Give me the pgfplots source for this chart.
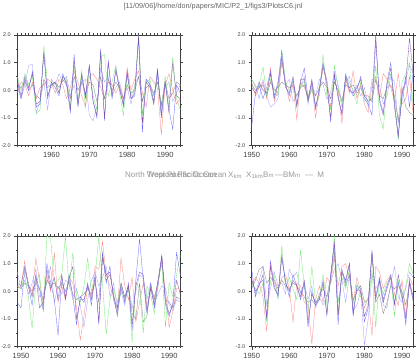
\documentclass[border=0pt]{standalone}
\usepackage{fontspec}
\setmainfont{Liberation Sans}
\usepackage{pgfplots}
\usepackage{pgfplotstable}
\pgfplotsset{compat=1.18}
\definecolor{cB}{rgb}{0.4,0.4,1}
\definecolor{cG}{rgb}{0.45,0.9,0.45}
\definecolor{cR}{rgb}{1,0.5,0.5}
\definecolor{cLB}{rgb}{0.62,0.62,1}
\definecolor{cK}{rgb}{0.5,0.5,0.5}
\definecolor{cP}{rgb}{0.5,0.3,0.65}

\pgfplotstableread{
yr a b c d e f
1951 0.3 0.5 -0.1 0.1 0.2 0.4
1952 -0.3 0.0 0.3 -0.3 0.1 -0.2
1953 0.4 0.6 0.2 0.2 0.3 0.5
1954 0.0 0.2 -0.2 0.9 0.0 0.1
1955 0.7 0.5 0.3 0.95 0.2 0.6
1956 -0.6 -0.85 -0.3 -0.8 -0.2 -0.5
1957 -0.5 -0.7 0.1 -0.4 -0.3 -0.4
1958 1.3 1.6 0.2 0.3 0.4 1.4
1959 -0.3 0.2 0.4 -0.7 0.1 -0.2
1960 0.3 0.1 0.3 0.4 0.2 0.2
1961 0.1 0.3 -0.1 0.2 0.3 0.3
1962 -0.2 -0.1 0.4 0.6 0.1 -0.1
1963 0.6 0.5 0.2 0.3 0.4 0.5
1964 0.2 0.4 -0.3 0.5 0.2 0.3
1965 -0.8 -0.6 0.1 -0.2 -0.3 -0.7
1966 1.3 0.9 0.7 0.2 0.5 1.1
1967 -0.6 -0.4 0.3 -0.5 0.0 -0.5
1968 0.5 0.7 -0.2 0.3 0.3 0.6
1969 -0.3 -0.6 -0.6 0.4 -0.1 -0.2
1970 0.9 0.8 0.5 -0.9 0.3 0.9
1971 -0.4 -0.2 0.6 -1.1 0.2 -0.4
1972 -1.0 -0.7 0.4 -0.6 -0.4 -0.9
1973 1.5 1.2 0.1 0.8 0.5 1.4
1974 -1.1 1.3 -0.3 0.3 -0.3 -1.0
1975 1.1 -0.2 0.3 0.5 0.4 1.0
1976 -0.3 0.3 0.2 -0.2 0.0 -0.2
1977 0.8 0.9 -0.1 0.1 0.3 0.7
1978 0.1 -0.1 0.2 0.3 0.1 0.0
1979 -0.6 -0.9 -0.4 -0.3 -0.3 -0.5
1980 0.7 0.5 0.8 0.1 0.2 0.6
1981 -0.3 -0.2 0.0 -0.5 -0.1 -0.3
1982 -0.2 0.1 0.4 0.2 0.0 -0.1
1983 1.9 2.0 0.7 0.5 0.5 2.0
1984 -1.5 -0.9 -0.1 -0.4 -0.4 -1.2
1985 0.4 0.3 -0.6 0.4 0.1 0.3
1986 0.2 0.4 0.5 0.2 0.2 0.1
1987 -0.4 -0.5 0.3 -0.2 -0.1 -0.5
1988 0.8 0.6 0.1 0.5 0.3 0.7
1989 -1.0 -0.8 -1.6 -0.6 -0.5 -0.9
1990 0.3 0.5 0.2 0.1 0.3 0.3
1991 -0.7 -0.6 0.6 0.3 -0.3 -0.8
1992 -1.4 1.2 0.0 -0.4 -0.1 1.0
1993 0.2 -0.3 -0.5 -0.1 0.3 -0.2
1994 -0.1 -0.7 -0.3 0.2 0.2 -0.3
}\tTL

\pgfplotstableread{
yr a b c d e f
1950 -1.3 0.4 0.3 0.4 0.2 0.1
1951 -0.1 0.1 -0.2 0.2 0.0 -0.1
1952 0.2 0.2 0.1 -0.3 0.1 0.3
1953 -0.3 0.85 0.3 0.4 0.2 0.0
1954 0.1 -0.2 -0.3 -0.2 -0.2 -0.1
1955 0.7 0.4 0.8 -0.6 0.3 0.6
1956 -0.2 0.1 -0.4 -0.5 0.0 -0.3
1957 0.3 -0.2 0.0 -0.3 0.1 0.2
1958 1.4 1.5 1.0 1.1 0.3 1.2
1959 0.2 0.3 0.3 0.2 0.2 0.1
1960 -0.2 0.0 -0.4 0.4 0.1 -0.1
1961 0.4 0.3 0.2 -0.4 0.2 0.5
1962 -0.5 -0.6 -1.05 -0.2 -0.2 -0.6
1963 0.3 0.2 0.3 0.1 0.1 0.4
1964 0.8 0.3 0.1 0.5 0.2 0.4
1965 -0.3 -0.4 -0.2 -0.5 -0.3 -0.4
1966 0.3 0.1 0.2 0.3 0.0 0.4
1967 -0.7 -0.5 -1.0 -0.2 -0.2 -0.6
1968 0.1 -0.2 0.0 0.4 0.1 0.0
1969 1.0 1.3 0.8 0.2 0.3 0.9
1970 0.3 -0.2 0.4 -0.3 0.1 0.2
1971 -1.15 -0.7 -0.6 -0.1 -0.3 -1.0
1972 0.5 0.9 0.3 0.7 0.3 0.6
1973 -0.2 0.1 0.0 0.2 0.0 -0.3
1974 -0.9 -0.6 -1.2 -0.4 -0.4 -0.8
1975 0.6 0.5 0.4 0.3 0.2 0.5
1976 0.1 0.3 -0.1 0.5 0.1 0.0
1977 -0.2 0.0 0.7 -0.1 0.2 -0.1
1978 0.0 -0.5 -0.3 0.2 -0.1 0.1
1979 0.5 0.3 0.2 -0.2 0.1 0.4
1980 -0.3 -0.4 -0.5 0.1 -0.2 -0.2
1981 -0.5 -0.3 -0.8 -0.6 -0.2 -0.4
1982 -0.9 -0.4 0.2 0.4 -0.4 -0.3
1983 1.8 0.9 0.5 0.3 0.4 2.0
1984 -0.3 -0.9 -0.3 0.2 -0.2 -0.4
1985 -0.8 -1.4 0.6 -0.5 -0.3 -0.9
1986 0.3 0.1 0.4 -0.2 0.1 0.2
1987 1.0 0.6 0.1 0.5 0.2 0.8
1988 -0.5 -0.3 -0.4 0.3 -0.2 -0.6
1989 -1.6 -1.8 0.6 -1.2 -1.1 -1.7
1990 -0.2 0.3 -0.5 -0.4 0.1 -0.1
1991 0.5 0.6 -0.3 0.4 -0.6 0.3
1992 -0.6 1.0 0.5 0.9 -0.8 1.9
1993 0.7 -0.6 -0.9 0.6 -0.9 0.5
}\tTR

\pgfplotstableread{
yr a b c d e f
1949 -0.4 0.2 0.1 0.7 0.2 0.3
1950 -0.6 0.1 0.2 0.1 0.1 0.2
1951 0.8 0.6 1.1 0.4 0.3 0.9
1952 0.2 -0.2 0.1 -0.1 0.2 0.3
1953 -0.5 -1.35 -0.1 0.3 0.0 -0.2
1954 0.5 0.3 1.2 0.8 0.3 0.6
1955 0.1 0.6 0.4 -0.2 0.1 -0.6
1956 -0.7 -0.7 -0.5 -0.1 -0.3 -0.4
1957 1.0 2.0 0.6 0.3 0.4 0.8
1958 0.3 1.9 0.0 0.9 0.2 0.1
1959 -0.3 0.3 1.4 -0.4 0.3 0.5
1960 -1.6 0.4 -0.4 0.2 0.1 -0.3
1961 0.5 0.6 0.2 -0.1 0.3 0.6
1962 -0.2 2.0 -0.3 0.4 0.0 -0.3
1963 0.6 0.1 0.5 0.3 0.4 0.5
1964 -0.2 1.4 0.3 -0.3 -0.1 0.9
1965 -1.2 -0.2 -0.6 0.1 -0.3 -1.0
1966 -0.2 -0.4 -1.75 -0.5 -0.2 -0.3
1967 -0.4 0.2 -0.9 -1.3 -0.1 -0.3
1968 0.3 1.2 0.2 -0.3 0.1 0.2
1969 -0.5 0.0 -0.2 0.4 -0.1 -0.3
1970 0.6 0.5 0.9 0.7 0.3 0.5
1971 -1.2 2.0 0.8 0.2 -0.4 -1.1
1972 1.4 0.3 1.8 0.5 1.4 1.2
1973 0.3 -1.55 0.6 0.9 0.4 0.6
1974 0.9 -0.3 0.2 -0.2 0.6 0.7
1975 -0.3 0.1 -0.2 0.3 -0.1 -0.2
1976 -0.8 -0.4 -0.7 -0.6 -0.9 -0.6
1977 0.2 0.3 1.2 0.0 0.1 0.3
1978 -0.4 -0.2 0.2 -0.5 -0.3 -0.2
1979 0.3 0.2 -0.3 0.2 0.1 0.2
1980 -1.4 -1.85 0.5 -0.6 -0.8 -1.2
1981 0.4 0.3 -1.1 0.0 -1.0 0.2
1982 1.9 0.1 -0.4 0.6 0.3 0.7
1983 0.4 -1.5 0.3 0.5 -1.1 0.6
1984 -0.8 0.2 -0.5 -0.3 -0.9 -0.7
1985 0.3 -0.1 0.1 0.3 0.2 0.1
1986 -0.6 -0.8 -0.2 -0.4 -0.3 -0.5
1987 0.2 0.4 0.3 -0.1 0.4 0.4
1988 1.3 1.0 1.1 0.2 1.2 1.3
1989 -0.5 -1.3 0.0 0.1 -0.3 -0.4
1990 -0.9 0.3 -1.3 -0.5 -0.4 -0.8
1991 -0.4 -0.2 -0.7 -0.7 -0.6 -0.5
1992 1.4 0.6 0.1 -0.3 -0.2 0.4
1993 0.6 1.3 0.1 -0.4 -0.3 -0.1
}\tBL

\pgfplotstableread{
yr a b c d e f
1950 0.8 0.3 0.2 0.5 0.1 0.4
1951 -0.2 0.1 0.5 -0.1 0.4 0.0
1952 0.3 -0.1 0.3 0.4 0.8 0.2
1953 0.4 0.3 -0.2 0.9 0.9 0.6
1954 -0.9 -1.1 -1.45 -0.5 0.3 -1.0
1955 1.1 0.4 1.0 0.1 0.5 0.9
1956 0.2 0.6 0.3 0.7 0.4 0.1
1957 -0.2 -0.3 0.0 0.2 0.1 -0.1
1958 1.2 1.65 0.5 0.3 0.4 1.3
1959 0.4 0.1 0.6 -0.1 0.2 0.3
1960 -0.2 0.5 0.1 0.8 0.1 0.0
1961 0.6 0.1 -1.1 0.5 0.3 0.4
1962 0.2 -0.3 0.3 0.7 0.2 0.2
1963 -0.3 1.5 0.2 -0.1 0.0 -0.2
1964 0.3 0.2 -0.4 0.3 -0.2 0.4
1965 -1.3 -0.7 -0.5 -0.3 -0.4 -1.1
1966 0.0 0.9 -1.9 0.2 -0.3 -0.1
1967 -0.5 -0.4 -0.3 -0.6 -0.5 -0.4
1968 -0.3 -0.2 0.2 -0.2 -0.1 -0.3
1969 0.4 0.6 -0.4 -0.5 0.1 0.3
1970 -0.9 -0.5 0.5 -0.2 -0.2 -0.8
1971 0.6 0.4 0.3 0.3 0.5 0.5
1972 1.7 2.0 1.2 0.8 1.4 1.8
1973 -1.2 -0.4 0.2 1.0 -0.8 -0.9
1974 0.8 0.5 0.9 0.4 0.7 0.7
1975 0.3 0.1 1.0 -0.4 0.2 0.4
1976 1.0 0.8 0.5 0.6 0.6 1.0
1977 -0.9 -0.7 -0.4 -0.7 -0.3 -0.8
1978 0.2 0.3 0.5 -0.5 0.0 0.1
1979 0.1 -0.2 0.0 0.0 0.2 0.0
1980 -1.1 -0.3 -0.6 -1.95 -0.4 -0.9
1981 -0.6 -0.5 -0.2 -1.0 -0.3 -0.5
1982 1.5 0.8 -1.6 0.6 1.3 1.4
1983 -0.2 -1.3 0.9 0.1 -0.4 -0.3
1984 0.5 0.4 0.7 0.3 -0.1 0.4
1985 -0.3 -0.1 0.1 -0.5 -0.8 -0.4
1986 0.2 0.3 0.4 -0.6 -0.4 0.1
1987 0.6 0.5 0.6 0.3 0.2 0.5
1988 -0.4 -0.9 -0.1 0.9 0.1 -0.5
1989 0.3 0.4 -0.5 -0.2 0.2 0.6
1990 -0.2 -0.3 0.4 -0.4 0.0 -0.1
1991 -1.2 0.2 -0.9 0.1 -0.5 -1.0
1992 0.4 1.0 0.5 0.7 0.3 0.3
1993 -0.3 0.6 0.2 0.5 -0.2 -0.4
}\tBR

\pgfplotsset{
  panel/.style={
    scale only axis, height=110.7bp, anchor=north west,
    ymin=-2, ymax=2, ytick={-2,-1,0,1,2}, minor ytick={-1.5,-0.5,0.5,1.5},
    xtick={1950,1960,1970,1980,1990},
    minor xtick={1949,...,1994},
    tick align=outside, major tick length=3bp, minor tick length=1.6bp,
    axis line style={black!75, line width=0.5pt},
    every tick/.style={black!75, line width=0.4pt},
    /pgf/number format/assume math mode=true,
    /pgf/number format/1000 sep={},
    xticklabel style={font=\fontsize{7.5}{8}\selectfont, text=black!75},
    yticklabel style={font=\fontsize{5.5}{6}\selectfont, text=black!75,
      /pgf/number format/.cd, fixed, fixed zerofill, precision=1},
    every axis plot/.append style={line width=0.3pt, no markers},
  }
}
\newcommand{\series}[1]{%
  \addplot[cLB] table[x=yr,y=d] {#1};
  \addplot[cR] table[x=yr,y=c] {#1};
  \addplot[cK] table[x=yr,y=e] {#1};
  \addplot[cG] table[x=yr,y=b] {#1};
  \addplot[cB] table[x=yr,y=a] {#1};
  \addplot[cP] table[x=yr,y=f] {#1};
}

\begin{document}
\begin{tikzpicture}[x=1bp,y=1bp]
\useasboundingbox (0,0) rectangle (418,360);
\node[font=\fontsize{7.3}{8}\selectfont, text=black!60] at (213,353) {[11/09/06]/home/don/papers/MIC/P2\_1/figs3/PlotsC6.jnl};

\begin{axis}[panel, at={(17.3bp,325bp)}, width=163bp, xmin=1951, xmax=1994]
\series{\tTL}
\end{axis}
\begin{axis}[panel, at={(251.7bp,325bp)}, width=161.6bp, xmin=1950, xmax=1993]
\series{\tTR}
\end{axis}
\begin{axis}[panel, at={(17.3bp,124bp)}, width=163bp, xmin=1949, xmax=1993]
\series{\tBL}
\end{axis}
\begin{axis}[panel, at={(251.7bp,124bp)}, width=161.6bp, xmin=1950, xmax=1993]
\series{\tBR}
\end{axis}

\begin{scope}[every node/.style={font=\fontsize{8}{9}\selectfont, text=black!40, inner sep=0pt, anchor=base west}]
\node at (125,183) {North West Pacific Ocean};
\node at (147,183) {Tropical Pacific Ocean};
\node at (228,183) {X\textsubscript{km}};
\node at (246,183) {X\textsubscript{1km}};
\node at (263,183) {B\textsubscript{m}};
\node at (275,183) {---BM\textsubscript{m} \ --- \ M};
\end{scope}
\end{tikzpicture}
\end{document}
